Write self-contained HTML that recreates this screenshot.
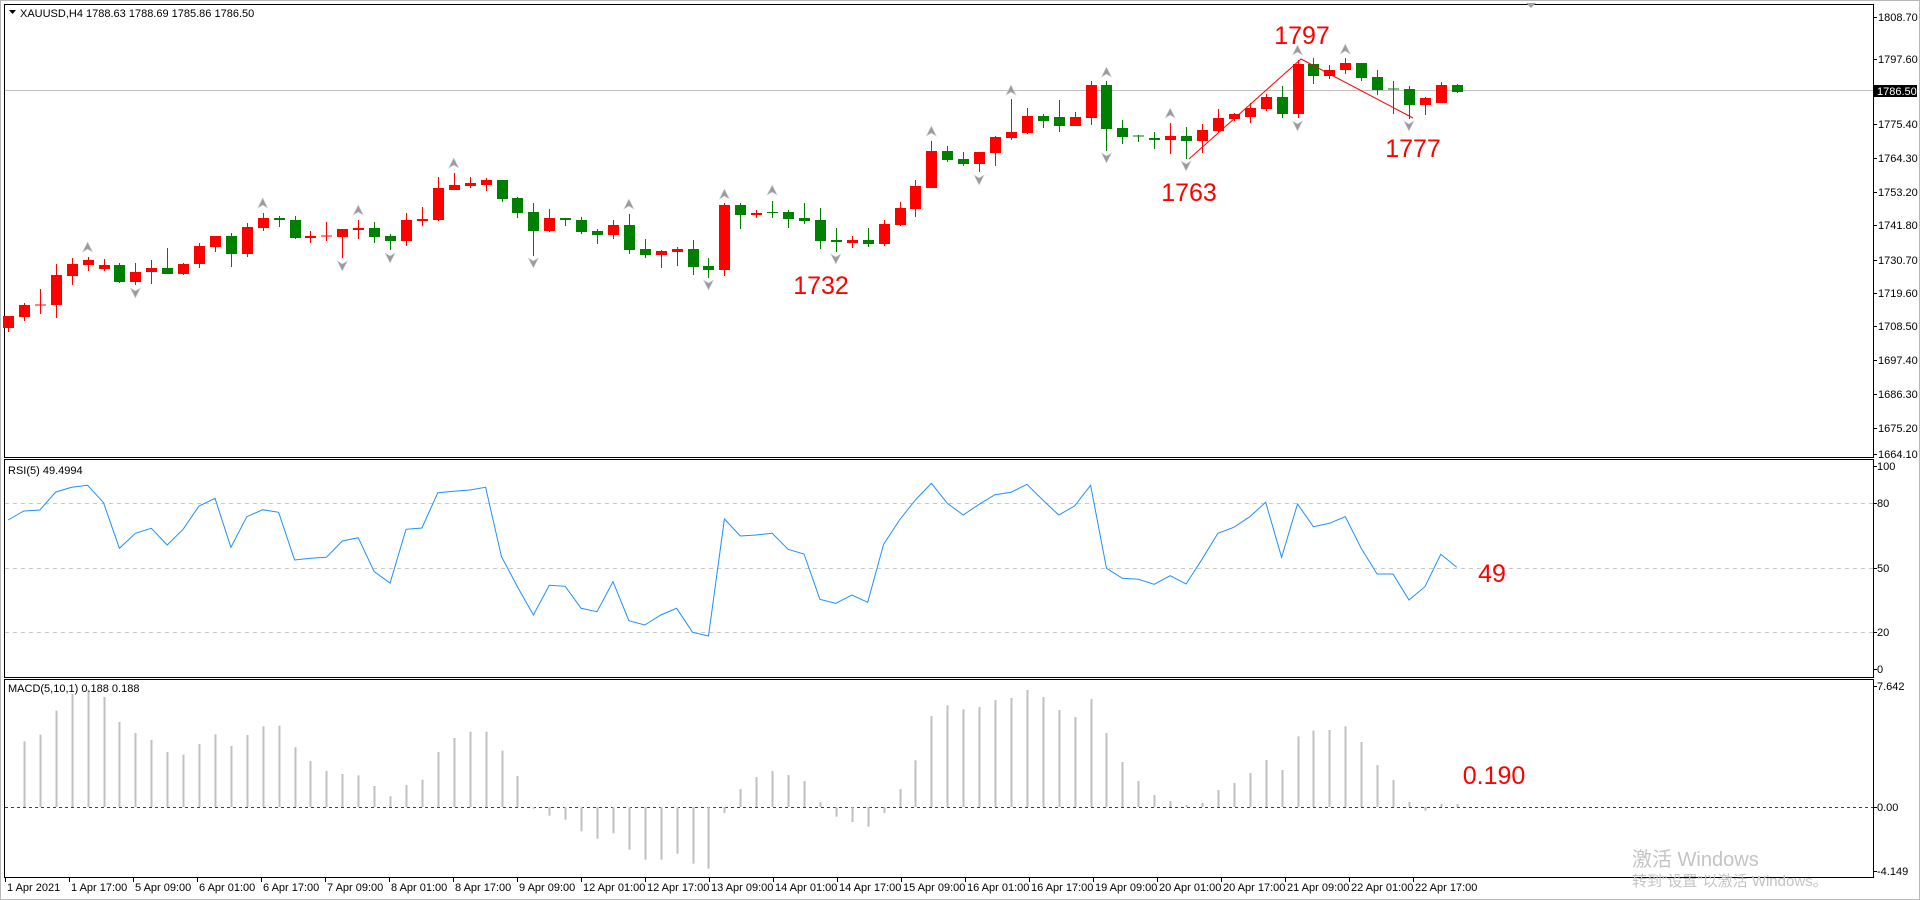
<!DOCTYPE html>
<html><head><meta charset="utf-8"><style>
html,body{margin:0;padding:0;background:#fff;width:1920px;height:900px;overflow:hidden}
svg{display:block}
text{font-family:"Liberation Sans","Noto Sans CJK SC",sans-serif}
</style></head><body>
<svg id="s" xmlns="http://www.w3.org/2000/svg" width="1920" height="900" viewBox="0 0 1920 900">
<rect x="0.5" y="0.5" width="1919" height="899" fill="#fff" stroke="#b8b8b8"/>
<rect x="4.5" y="4.5" width="1869" height="453" fill="none" stroke="#000"/>
<rect x="4.5" y="459.5" width="1869" height="218" fill="none" stroke="#000"/>
<rect x="4.5" y="679.5" width="1869" height="198" fill="none" stroke="#000"/>
<line x1="5" y1="90.5" x2="1873" y2="90.5" stroke="#c0c0c0"/>
<g stroke="#c8c8c8" stroke-dasharray="4,4">
<line x1="5" y1="503.5" x2="1873" y2="503.5"/>
<line x1="5" y1="568.5" x2="1873" y2="568.5"/>
<line x1="5" y1="632.5" x2="1873" y2="632.5"/>
</g>
<line x1="5" y1="807.5" x2="1873" y2="807.5" stroke="#e00000" stroke-dasharray="3,3"/>
<g id="g"></g>
<polygon points="1526,3 1536,3 1531,8" fill="#a0a0a0"/>
<polygon points="9,10 16,10 12.5,14" fill="#000"/>
<text x="20" y="17" font-size="11" fill="#000">XAUUSD,H4  1788.63 1788.69 1785.86 1786.50</text>
<text x="8" y="474" font-size="11" fill="#000">RSI(5) 49.4994</text>
<text x="8" y="692" font-size="11" fill="#000">MACD(5,10,1) 0.188 0.188</text>
<g font-size="25" fill="#ff0000" text-anchor="middle">
<text x="821" y="294">1732</text>
<text x="1189" y="201">1763</text>
<text x="1302" y="44">1797</text>
<text x="1413" y="157">1777</text>
<text x="1492" y="582">49</text>
<text x="1494" y="784">0.190</text>
</g>
<polyline points="1189,159 1301,59 1413,118" fill="none" stroke="#ff0000" stroke-width="1"/>
<rect x="1874" y="85" width="43" height="12" fill="#000"/>
<text x="1877" y="95" font-size="11" fill="#fff">1786.50</text>
<text x="1632" y="866" font-size="20" fill="#c4c4c4">激活 Windows</text>
<text x="1632" y="886" font-size="15" fill="#c4c4c4">转到"设置"以激活 Windows。</text>
</svg>
<script>
var NS="http://www.w3.org/2000/svg",g=document.getElementById('g');
function el(t,a,txt){var e=document.createElementNS(NS,t);for(var k in a)e.setAttribute(k,a[k]);if(txt!=null)e.textContent=txt;g.appendChild(e);return e;}
function X(i){return 8+15.92*i;}
var C=[['r',316,328,316,332],['r',305,317,303,321],['r',304.5,305.5,289,314],['r',275,305,264,318],['r',264,276,258,285],['r',260,265,257,271],['r',265,269,259,271],['g',265,282,263,283],['r',272,282,263,285],['r',268,272,260,284],['g',268,274,248,274],['r',264,274,263,275],['r',246,264,243,268],['r',236,247,236,252],['g',236,254,233,267],['r',227,254,223,257],['r',218,228,213,231],['g',218,220,216,227],['g',220,238,216,239],['r',236,238,231,243],['r',235.5,236.5,222,241],['r',229,237,229,258],['r',228,230,220,239],['g',228,237,222,243],['g',236,241,234,250],['r',220,241,213,246],['r',219,221,207,226],['r',188,220,177,221],['r',185,190,173,190],['r',183,186,177,188],['r',180,185,178,191],['g',180,199,180,202],['g',198,213,197,218],['g',212,231,203,256],['r',218,231,209,232],['g',218,220,218,226],['g',220,232,217,234],['g',231,235,229,244],['r',225,235,220,239],['g',225,250,214,254],['g',249,255,239,258],['r',251,255,250,268],['r',249,252,247,266],['g',249,267,240,275],['g',266,270,258,278],['r',205,270,203,276],['g',205,215,203,229],['r',213,215,210,218],['g',212,213,201,218],['g',212,219,210,228],['g',218,221,203,224],['g',220,241,208,249],['g',240,242,228,252],['r',240,243,236,248],['g',240,244,228,247],['r',224,244,220,246],['r',208,225,202,226],['r',186,209,180,217],['r',151,188,141,188],['g',151,160,146,162],['g',159,164,152,166],['r',152,164,152,172],['r',137,153,136,166],['r',132,138,99,140],['r',116,133,108,134],['g',116,121,114,128],['g',117,126,100,132],['r',117,126,112,126],['r',85,118,81,125],['g',85,129,81,151],['g',128,137,120,144],['g',135.5,136.5,135,142],['g',138,140,132,149],['r',136,140,123,154],['g',136,141,127,159],['r',130,141,124,153],['r',118,131,109,132],['r',114,119,113,121],['r',108,117,103,123],['r',97,109,94,111],['g',97,114,86,118],['r',64,114,60,118],['g',64,76,58,84],['r',70,76,65,79],['r',63,70,58,74],['g',63,78,63,81],['g',77,90,70,95],['g',88.5,89.5,81,114],['g',89,105,86,119],['r',98,105,97,115],['r',85,103,82,103],['g',85,92,84,93]];
var RSI=[520,511,510,492,487.3,485.3,502.7,548.3,533.3,528.3,545,529.3,506,498.3,547.3,516.7,509.7,512.3,560,558.3,557.3,541,537.7,571.7,583,529.3,528,492.7,491.3,490,487.3,556.7,586.7,615,585.3,586.3,608.3,611.7,581.7,620.7,625,615,608.3,632.3,636,519,536,535,533.3,549.3,554,599.3,603.3,595,602.3,544.3,520,500,483.3,503.3,515,504.3,494.7,492.3,484.3,500,515,506,485.3,568.3,578.3,579.3,584.3,575.7,584,559.3,533.3,527.3,516.7,502.3,557.3,504,526.7,523.3,516.7,548.3,574,574,600,586.7,554.3,567.3];
var M=[null,741.3,734.7,710.7,694,689.7,697,722,733,740,752,754.7,744,734.3,746,735,726.3,725.7,747.3,761,771,774,775.3,786,796.3,785,779.7,752,738,731.7,731.7,750.7,776,808.7,815.7,819.7,831.3,838.7,833.3,849.7,859.7,859.7,853.7,863.7,868.7,813,789,777,771,775,781,802.3,816.7,822,826.7,813,789,760.3,716,705.3,709.3,707,700,698,690,697,710,717,699,733,762,781,795,801,805,803,790,783,773,760,770,736.3,730.7,730,726.3,742,765,780,802,810.7,804,804];
// MACD bars
M.forEach(function(v,i){if(v==null)return;var x=Math.round(X(i))+0.5;el('line',{x1:x,y1:807,x2:x,y2:v,stroke:'#c0c0c0','stroke-width':2});});
// candles
C.forEach(function(c,i){var x=Math.round(X(i)),col=c[0]=='r'?'#ff0000':'#008000';
el('rect',{x:x,y:c[3],width:1,height:Math.max(1,c[4]-c[3]),fill:col});
var h=c[2]-c[1];el('rect',{x:x-5,y:c[1],width:11,height:Math.max(1,h),fill:col});});
// RSI
el('polyline',{points:RSI.map(function(y,i){return X(i).toFixed(1)+','+y;}).join(' '),fill:'none',stroke:'#1e90ff','stroke-width':1});
// fractals
var up=[[5,247],[16,203],[22,210],[28,163],[39,204],[45,194],[48,190],[58,131],[63,90],[69,72],[73,113],[81,50],[84,49]];
var dn=[[8,293],[21,266],[24,258],[33,263],[44,285],[52,259],[61,180],[69,158],[74,166],[81,126],[88,126]];
up.forEach(function(f){var x=X(f[0]),y=f[1];el('path',{d:'M'+x+','+(y-5)+'L'+(x+5)+','+(y+5)+'L'+x+','+(y+2)+'L'+(x-5)+','+(y+5)+'Z',fill:'#9a9a9a',stroke:'#c8d0d8','stroke-width':0.6});});
dn.forEach(function(f){var x=X(f[0]),y=f[1];el('path',{d:'M'+x+','+(y+5)+'L'+(x+5)+','+(y-5)+'L'+x+','+(y-2)+'L'+(x-5)+','+(y-5)+'Z',fill:'#9a9a9a',stroke:'#c8d0d8','stroke-width':0.6});});
// price axis
var P=[['1808.70',17],['1797.60',59],['1775.40',124],['1764.30',158],['1753.20',192],['1741.80',225],['1730.70',260],['1719.60',293],['1708.50',326],['1697.40',360],['1686.30',394],['1675.20',428],['1664.10',454]];
P.forEach(function(p){el('line',{x1:1874,y1:p[1]+0.5,x2:1877,y2:p[1]+0.5,stroke:'#000'});el('text',{x:1878,y:p[1]+4,'font-size':11,fill:'#000'},p[0]);});
[['100',466],['80',503],['50',568],['20',632],['0',669],['7.642',686],['0.00',807],['-4.149',871]].forEach(function(p){el('line',{x1:1874,y1:p[1]+0.5,x2:1877,y2:p[1]+0.5,stroke:'#000'});el('text',{x:1877,y:p[1]+4,'font-size':11,fill:'#000'},p[0]);});
// time axis
var T=['1 Apr 2021','1 Apr 17:00','5 Apr 09:00','6 Apr 01:00','6 Apr 17:00','7 Apr 09:00','8 Apr 01:00','8 Apr 17:00','9 Apr 09:00','12 Apr 01:00','12 Apr 17:00','13 Apr 09:00','14 Apr 01:00','14 Apr 17:00','15 Apr 09:00','16 Apr 01:00','16 Apr 17:00','19 Apr 09:00','20 Apr 01:00','20 Apr 17:00','21 Apr 09:00','22 Apr 01:00','22 Apr 17:00'];
T.forEach(function(t,k){var x=5+64*k;el('line',{x1:x+0.5,y1:878,x2:x+0.5,y2:882,stroke:'#000'});el('text',{x:x+2,y:891,'font-size':11,fill:'#000'},t);});
</script>
</body></html>
